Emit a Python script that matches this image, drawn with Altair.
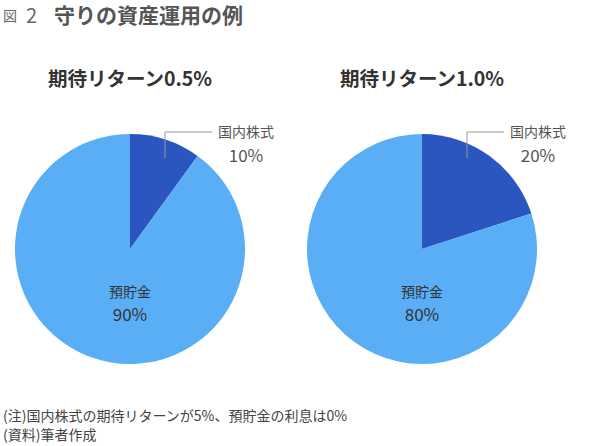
import altair as alt
import pandas as pd

pies = ["期待リターン0.5%", "期待リターン1.0%"]
categories = ["国内株式", "預貯金"]
shares = [[10, 90], [20, 80]]
colors = ["#2B55BF", "#5AAEF6"]

rows = []
for p, vals in zip(pies, shares):
    for i, (c, v) in enumerate(zip(categories, vals)):
        rows.append({"pie": p, "cat": c, "value": v, "ord": i, "pct": f"{v}%"})
df = pd.DataFrame(rows)

FONT = "Noto Sans CJK JP"
centers = [130, 422]
cy = 249
R = 115

def label(t, x, y, size, color, weight="normal", align="left"):
    return alt.Chart(pd.DataFrame({"t": [t]})).mark_text(
        font=FONT, fontSize=size, fontWeight=weight, color=color, align=align, baseline="middle"
    ).encode(text="t:N", x=alt.value(x), y=alt.value(y))

layers = []
for k, p in enumerate(pies):
    cx = centers[k]
    base = alt.Chart(df).transform_filter(alt.datum.pie == p)
    arc = base.mark_arc(outerRadius=R, stroke=None).encode(
        theta=alt.Theta("value:Q", stack=True),
        order=alt.Order("ord:Q"),
        color=alt.Color("cat:N", scale=alt.Scale(domain=categories, range=colors), legend=None),
        x=alt.value(cx), y=alt.value(cy),
    )
    title = label(p, cx, 80, 19.5, "#333", "bold", "center")
    lx = cx + 35 if k == 0 else cx + 45
    stock = base.transform_filter(alt.datum.ord == 0)
    v1 = stock.mark_rule(color="#999", strokeWidth=1).encode(
        x=alt.value(lx), y=alt.value(132), y2=alt.value(158))
    h1 = stock.mark_rule(color="#999", strokeWidth=1).encode(
        x=alt.value(lx), x2=alt.value(cx + 82), y=alt.value(132))
    sname = stock.mark_text(font=FONT, fontSize=14, color="#555", align="center", baseline="middle").encode(
        text="cat:N", x=alt.value(cx + 116), y=alt.value(133))
    spct = stock.mark_text(font=FONT, fontSize=17, color="#555", align="center", baseline="middle").encode(
        text="pct:N", x=alt.value(cx + 116), y=alt.value(157))
    dep = base.transform_filter(alt.datum.ord == 1)
    dname = dep.mark_text(font=FONT, fontSize=14, color="#333", align="center", baseline="middle").encode(
        text="cat:N", x=alt.value(cx), y=alt.value(293))
    dpct = dep.mark_text(font=FONT, fontSize=17, color="#333", align="center", baseline="middle").encode(
        text="pct:N", x=alt.value(cx), y=alt.value(316))
    layers += [arc, title, v1, h1, sname, spct, dname, dpct]

hdr1 = label("図", 3, 17, 14, "#666")
hdr2 = label("2", 26, 17, 20, "#666")
main = label("守りの資産運用の例", 54, 17, 21, "#555", "bold")
notes = ["(注)国内株式の期待リターンが5%、預貯金の利息は0%", "(資料)筆者作成"]
note1 = label(notes[0], 3, 417, 14, "#444")
note2 = label(notes[1], 3, 436, 14, "#444")

chart = alt.layer(*layers, hdr1, hdr2, main, note1, note2).properties(
    width=600, height=446, padding=0, autosize="none", background="white"
).configure_view(stroke=None)

chart.save("out.html", embed_options={"renderer": "svg", "actions": False})
